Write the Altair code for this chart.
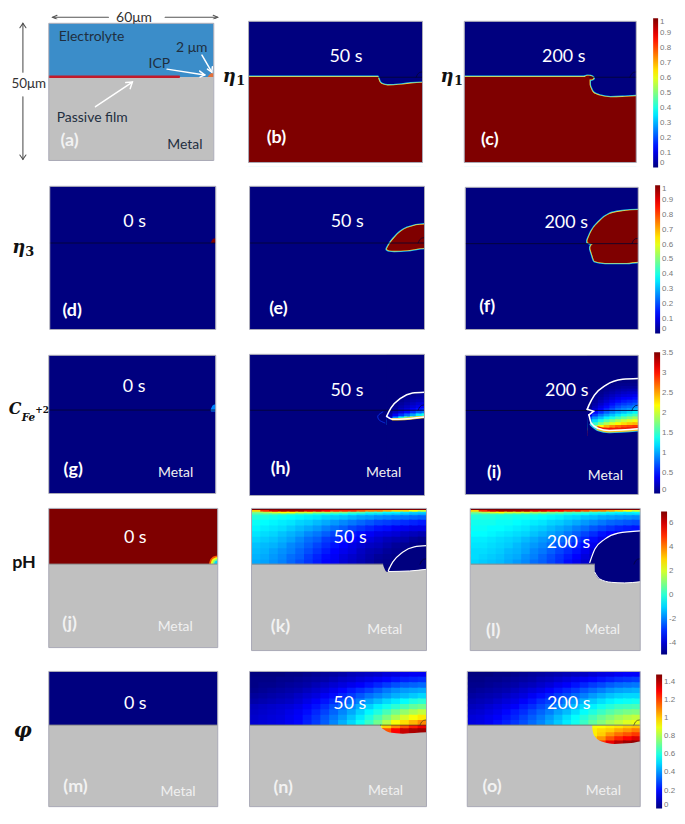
import altair as alt

# colour map of the simulation plots
JET_FRAC = [0, .125, .375, .625, .875, 1]
JET_COL = ["#00007f", "#0000ff", "#00ffff", "#ffff00", "#ff0000", "#7f0000"]
ETA_RANGE = (0, 1)
FE_RANGE = (0, 3.52)
PH_RANGE = (-5, 7)
PHI_RANGE = (0, 1.486)
ETA_TICKS = [0, .1, .2, .3, .4, .5, .6, .7, .8, .9, 1]
FE_TICKS = [0, .5, 1, 1.5, 2, 2.5, 3, 3.5]
PH_TICKS = [-4, -2, 0, 2, 4, 6]
PHI_TICKS = [0, .2, .4, .6, .8, 1, 1.2, 1.4]

# interface / pit profiles, micrometres (x along the surface, y down from the top)
B_X = [0, 44.6, 44.8, 45.2, 46, 48, 52, 56, 60]
B_Y = [19.7, 19.7, 20.4, 21.5, 22.2, 22.7, 22.5, 22, 21.8]
C_X = [0, 43.7, 43.75, 44.1, 44.8, 46.2, 47.6, 51, 55.2, 60]
C_Y = [19.7, 19.7, 22.5, 23.6, 25, 25.9, 26.4, 26.9, 26.8, 26.5]
C_OV_X = [42, 43, 44.1, 44.8, 45.1]
C_OV_T = [19.7, 19.3, 19.4, 19.7, 20.1]
C_OV_B = [19.9, 20.4, 20.6, 20.4, 20.2]
D_X = [58.2, 58.8, 59.4, 60]
D_T = [19.8, 18.6, 18.2, 18.1]
D_B = [19.8, 19.8, 19.8, 19.8]
E_X = [47.1, 47.9, 49.6, 54.1, 60]
E_T = [21.8, 20.3, 18, 14.5, 13.3]
E_B = [22, 22.4, 22.5, 22.3, 21.5]
F_UP_X = [42.4, 43.8, 46.6, 50, 54.5, 60]
F_UP_T = [18.6, 15.4, 11.9, 9.4, 8.4, 8.0]
F_UP_B = [19.3, 19.9, 20, 20, 20, 20]
F_LO_X = [43.4, 43.8, 44.1, 44.8, 47, 50, 56, 60]
F_LO_T = [21, 20.3, 20, 19.9, 19.9, 19.9, 19.9, 19.9]
F_LO_B = [21.7, 23, 24, 25.9, 26.4, 26.6, 26.6, 26.2]
G_X = [58.2, 58.7, 59.3, 60]
G_T = [19.6, 18.4, 17.9, 17.7]
G_B = [20.1, 20.3, 20.3, 20.3]
H_UP_X = [47, 48.5, 51.9, 55.9, 60]
H_UP_Y = [22, 19, 15.5, 13.7, 13.4]
H_LO_X = [47, 49, 54.1, 60]
H_LO_Y = [22, 23, 22.8, 22.2]
H_ARC_X = [45.7, 44, 44.4, 46.4]
H_ARC_Y = [20.4, 21.8, 23.2, 24.3]
I_UP_X = [42.3, 42.9, 44.8, 48.8, 54.6, 60]
I_UP_Y = [19.4, 17.9, 14.3, 10.7, 8.6, 8.3]
I_NOTCH_X = [42.3, 44.5, 42.9]
I_NOTCH_Y = [19.4, 20.1, 21.4]
I_LO_X = [42.9, 43.7, 46, 50, 60]
I_LO_Y = [21.4, 24.4, 26.2, 27, 26.4]
K_UP_X = [46.9, 48.4, 51.8, 55.8, 60]
K_UP_Y = [21.9, 18.9, 15.4, 13.5, 13.1]
K_M_X = [0, 45, 45.4, 46.4, 47, 54.2, 60]
K_M_Y = [19.6, 19.6, 20.7, 22.3, 22.2, 22.0, 21.4]
L_UP_X = [42.2, 44, 47.5, 52.2, 60]
L_UP_Y = [19, 14.3, 10.8, 8.7, 7.9]
L_M_X = [0, 43.9, 44, 45.7, 49.8, 54.5, 60]
L_M_Y = [19.6, 19.6, 22.5, 24.8, 26, 26.2, 25.8]
N_M_X = [0, 44.4, 44.5, 45.7, 47.5, 52, 56, 60]
N_M_Y = [19.85, 19.85, 20.5, 21.6, 22.6, 23, 22.8, 22.5]
O_M_X = [0, 43.3, 43.45, 44.2, 46.6, 51.1, 56.9, 60]
O_M_Y = [19.85, 19.85, 21.6, 24, 25.9, 26.8, 26.5, 25.9]
ARC_X = [57.8, 58.3, 59, 60]
ARC_Y = [19.8, 18.7, 18.1, 17.9]
ICP_X = [57.8, 58.5, 59.3, 60]
ICP_T = [19.6, 18.6, 18.2, 18.1]
ICP_B = [19.6, 19.6, 19.6, 19.6]
# concentric pH contours at the ICP in panel (j): x, top, value
J_RINGS = [
    ([56.9, 57.2, 58, 59, 60], [20, 18.7, 17.6, 17.1, 16.9], 4.5),
    ([57.5, 57.8, 58.5, 59.2, 60], [20, 18.8, 18, 17.6, 17.5], 2.3),
    ([58.1, 58.4, 59, 59.5, 60], [20, 19, 18.4, 18.2, 18.1], 1),
    ([58.7, 59, 59.5, 60], [20, 19.2, 18.8, 18.7], -1),
]

# cell edges of the sampled fields
COL3 = [0, 3, 6, 9, 12, 15, 18, 21, 24, 27, 30, 33, 36, 39, 42, 45, 48, 51, 54, 57, 60]
PH_Y = [0, .6, 1.2, 1.8, 2.4, 4, 6, 8, 10, 12, 14, 16, 18, 19.8]
PHI_Y = [0, 2, 4, 6, 8, 10, 12, 14, 16, 18, 19.8]
PHI_N_PIT_Y = [19.8, 21, 24]
PHI_O_PIT_Y = [19.8, 21, 22.5, 24, 25.5, 27, 29]
PIT_COL = [42, 45, 48, 51, 54, 57, 60]
H_COL = [47, 49, 51, 53, 55, 57, 59, 60]
H_ROW = [13, 14, 15, 16, 17, 18, 19, 20, 21, 22, 23, 24]
I_COL = [42.3, 44, 46, 48, 50, 52, 54, 56, 58, 60]
I_ROW = [8, 9, 10, 11, 12, 13, 14, 15, 16, 17, 18, 19, 20, 21, 22, 23, 24, 25, 26, 27, 28]

PH_K = [
 [7]*20,
 [3,5,6,6.5,6.5,6.5,6,6,5.5,5,5,5,4.5,4,4,3.5,3,3,2.5,2],
 [1,1.5,2,2.5,2.5,2,2,1.5,1.5,1,1,.5,.5,0,0,-.5,-.5,-.8,-1,-1],
 [.3,.3,.3,.2,.1,0,-.1,-.2,-.3,-.4,-.5,-.6,-.8,-.9,-1,-1.1,-1.2,-1.3,-1.4,-1.5],
 [-.1,-.2,-.3,-.4,-.5,-.6,-.7,-.8,-1,-1.1,-1.2,-1.4,-1.6,-1.7,-1.9,-2,-2.1,-2.2,-2.3,-2.4],
 [-.4,-.5,-.6,-.7,-.8,-1,-1.1,-1.3,-1.5,-1.7,-1.9,-2.1,-2.3,-2.5,-2.7,-2.8,-2.9,-3,-3.1,-3.2],
 [-.6,-.7,-.8,-.9,-1.1,-1.3,-1.5,-1.7,-2,-2.2,-2.4,-2.7,-2.9,-3.1,-3.3,-3.4,-3.6,-3.7,-3.8,-3.8],
 [-.8,-.9,-1,-1.2,-1.4,-1.6,-1.9,-2.1,-2.4,-2.7,-2.9,-3.2,-3.4,-3.6,-3.8,-3.9,-4,-4.2,-4.3,-4.4],
 [-1,-1.1,-1.2,-1.4,-1.6,-1.9,-2.2,-2.4,-2.8,-3,-3.3,-3.5,-3.7,-3.9,-4.1,-4.3,-4.4,-4.5,-4.7,-4.8],
 [-1.2,-1.3,-1.4,-1.6,-1.9,-2.1,-2.4,-2.7,-3,-3.3,-3.5,-3.8,-4,-4.2,-4.3,-4.5,-4.7,-4.8,-4.9,-5],
 [-1.3,-1.4,-1.6,-1.8,-2,-2.3,-2.6,-2.9,-3.2,-3.5,-3.7,-3.9,-4.2,-4.4,-4.5,-4.7,-4.8,-4.9,-5,-5],
 [-1.4,-1.5,-1.7,-1.9,-2.2,-2.4,-2.8,-3.1,-3.4,-3.6,-3.9,-4.1,-4.3,-4.5,-4.7,-4.8,-4.9,-5,-5,-5],
 [-1.5,-1.6,-1.8,-2,-2.3,-2.6,-2.9,-3.2,-3.5,-3.7,-4,-4.2,-4.4,-4.6,-4.8,-4.9,-5,-5,-5,-5],
]
PH_L = [
 [7]*20,
 [3,5,6,6.5,6.5,6.5,6.5,6,6,5.5,5.5,5,5,4.5,4,4,3.5,3,2.5,2],
 [1,1.5,2,2.5,2,2,2,1.5,1.5,1,1,.5,.5,.3,0,0,-.3,-.5,-.7,-.5],
 [.2,.2,.2,.2,.1,.1,0,0,-.1,-.1,-.2,-.3,-.4,-.5,-.7,-.8,-.9,-1,-1,-1],
 [-.1,-.1,-.1,-.2,-.2,-.3,-.3,-.4,-.5,-.6,-.7,-.9,-1,-1.2,-1.3,-1.5,-1.6,-1.7,-1.8,-1.9],
 [-.3,-.3,-.3,-.4,-.4,-.5,-.6,-.7,-.8,-1,-1.1,-1.3,-1.5,-1.7,-1.9,-2.1,-2.3,-2.4,-2.5,-2.6],
 [-.4,-.4,-.5,-.5,-.6,-.7,-.8,-1,-1.1,-1.3,-1.5,-1.7,-2,-2.2,-2.5,-2.7,-2.9,-3.1,-3.2,-3.3],
 [-.5,-.5,-.6,-.7,-.8,-.9,-1,-1.2,-1.4,-1.6,-1.8,-2.1,-2.4,-2.7,-3,-3.3,-3.5,-3.7,-3.8,-3.9],
 [-.7,-.7,-.8,-.9,-1,-1.1,-1.3,-1.5,-1.7,-1.9,-2.2,-2.5,-2.8,-3.1,-3.4,-3.7,-3.9,-4.1,-4.2,-4.3],
 [-.8,-.8,-.9,-1,-1.1,-1.3,-1.5,-1.7,-1.9,-2.2,-2.5,-2.8,-3.1,-3.4,-3.7,-4,-4.3,-4.5,-4.6,-4.7],
 [-.9,-.9,-1,-1.1,-1.3,-1.4,-1.6,-1.9,-2.1,-2.4,-2.7,-3,-3.3,-3.7,-4,-4.3,-4.6,-4.8,-5,-5],
 [-.9,-1,-1.1,-1.2,-1.4,-1.5,-1.8,-2,-2.3,-2.6,-2.9,-3.2,-3.5,-3.9,-4.2,-4.5,-4.8,-5,-5,-5],
 [-1,-1.1,-1.2,-1.3,-1.5,-1.7,-1.9,-2.2,-2.4,-2.7,-3,-3.4,-3.7,-4.1,-4.4,-4.7,-5,-5,-5,-5],
]
PHI_N = [
 [0,0,0,0,.01,.01,.02,.03,.04,.05,.06,.08,.09,.1,.11,.13,.14,.16,.17,.17],
 [.01,.01,.01,.02,.02,.03,.04,.05,.06,.08,.1,.11,.13,.15,.17,.19,.21,.23,.24,.25],
 [.01,.02,.02,.03,.04,.05,.06,.08,.1,.12,.14,.16,.18,.21,.24,.27,.3,.32,.33,.34],
 [.02,.03,.04,.05,.06,.07,.09,.11,.13,.16,.19,.22,.25,.28,.32,.36,.39,.41,.42,.43],
 [.04,.05,.06,.07,.08,.1,.12,.14,.17,.2,.24,.27,.31,.35,.38,.41,.44,.46,.48,.5],
 [.06,.07,.08,.09,.1,.12,.15,.18,.21,.25,.29,.33,.37,.42,.46,.5,.53,.56,.6,.62],
 [.09,.1,.11,.12,.13,.15,.18,.21,.25,.3,.34,.39,.44,.49,.54,.58,.62,.66,.7,.72],
 [.1,.11,.12,.13,.15,.17,.2,.24,.28,.33,.38,.43,.49,.55,.6,.66,.72,.77,.81,.84],
 [.11,.12,.13,.14,.16,.18,.22,.26,.31,.36,.41,.47,.53,.6,.67,.74,.81,.87,.92,.96],
 [.12,.13,.14,.15,.17,.19,.23,.27,.32,.38,.44,.5,.57,.64,.72,.82,.92,.98,1.04,1.1],
]
PHI_N_PIT = [
 [.9,1,1.1,1.18,1.26,1.32],
 [1.1,1.18,1.3,1.38,1.42,1.44],
]
PHI_O = [
 [0,0,0,.01,.01,.02,.03,.04,.05,.06,.07,.08,.09,.1,.12,.14,.15,.17,.18,.18],
 [.01,.01,.02,.02,.03,.04,.05,.06,.08,.09,.11,.13,.15,.17,.19,.21,.23,.25,.26,.27],
 [.02,.02,.03,.04,.05,.06,.08,.09,.11,.13,.16,.18,.21,.24,.27,.29,.32,.34,.35,.36],
 [.03,.04,.05,.06,.07,.09,.11,.13,.15,.18,.21,.24,.27,.31,.34,.37,.4,.42,.43,.44],
 [.05,.06,.07,.08,.1,.12,.14,.17,.2,.23,.27,.3,.34,.37,.41,.44,.47,.49,.5,.5],
 [.07,.08,.09,.11,.13,.15,.18,.21,.25,.28,.32,.36,.4,.44,.48,.51,.54,.56,.57,.58],
 [.09,.1,.12,.14,.16,.18,.22,.25,.29,.33,.37,.41,.46,.5,.54,.58,.61,.64,.65,.66],
 [.11,.12,.14,.16,.19,.22,.25,.29,.33,.37,.42,.46,.51,.56,.6,.64,.68,.71,.73,.74],
 [.13,.14,.16,.18,.21,.24,.28,.32,.36,.41,.46,.51,.56,.61,.66,.71,.75,.79,.82,.84],
 [.14,.15,.17,.2,.23,.26,.3,.34,.38,.43,.48,.53,.58,.64,.7,.75,.8,.84,.88,.9],
]
PHI_O_PIT = [
 [.92,.93,.95,.97,1,1.02],
 [.95,.98,1,1.05,1.08,1.12],
 [.95,1,1.08,1.14,1.18,1.22],
 [1,1.08,1.18,1.25,1.3,1.35],
 [1.1,1.22,1.33,1.4,1.44,1.46],
 [1.3,1.4,1.45,1.48,1.48,1.48],
]
FE_H = [
 [0,0,0,0,0,0,.02],
 [0,0,0,.02,.05,.08,.1],
 [0,0,.02,.05,.1,.12,.14],
 [0,.02,.05,.1,.15,.18,.2],
 [0,.05,.1,.15,.22,.28,.3],
 [.02,.08,.15,.22,.3,.38,.42],
 [.05,.12,.22,.3,.42,.5,.55],
 [.08,.2,.32,.45,.6,.75,.85],
 [.15,.4,.6,.8,1,1.25,1.4],
 [.3,.9,1.3,1.6,1.9,2.1,2.3],
 [1,2.4,2.6,2.7,2.7,2.8,2.8],
]
FE_I = [
 [0,0,0,0,0,0,0,0,0],
 [0,0,0,0,0,.02,.02,.02,.02],
 [0,0,0,0,.03,.05,.05,.05,.05],
 [0,0,0,.03,.06,.08,.1,.1,.1],
 [0,0,.02,.06,.1,.14,.16,.18,.18],
 [0,.02,.05,.1,.15,.2,.24,.26,.28],
 [0,.04,.08,.15,.22,.28,.32,.34,.38],
 [0,.06,.12,.2,.28,.36,.42,.44,.48],
 [0,.1,.18,.28,.38,.46,.52,.56,.6],
 [0,.14,.25,.36,.48,.58,.64,.68,.74],
 [.05,.2,.34,.46,.58,.7,.78,.82,.9],
 [.1,.3,.45,.6,.72,.85,.92,.98,1.08],
 [.2,.45,.6,.76,.9,1.02,1.1,1.2,1.3],
 [.4,.65,.85,1,1.12,1.24,1.36,1.46,1.55],
 [.7,.95,1.1,1.28,1.4,1.55,1.66,1.76,1.85],
 [.95,1.2,1.4,1.6,1.75,1.88,2,2.08,2.15],
 [1.1,1.5,1.75,1.95,2.1,2.22,2.32,2.4,2.45],
 [1.3,1.9,2.2,2.45,2.6,2.72,2.8,2.85,2.9],
 [2,2.4,2.9,3.05,3.1,3.15,3.2,3.2,3.2],
 [3,3,3,3,3,3,3,3,3],
]

# layout: cell cuts and the frame of each panel on the page
CUT_X = [8, 220, 440, 676]
CUT_Y = [8, 173, 341, 502, 662, 811]
FONT = "Lato"
MATH = "DejaVu Serif"
BOT = 50.8
GRAY = "#c0c0c0"
INK = "#111111"


class Panel:
    def __init__(self, col, row, box, rng=None, ticks=None, legend=None):
        x0, x1, y0, y1 = box
        kx, ky = (x1 - x0) / 60, (y1 - y0) / 50
        X0, X1, Y0, Y1 = CUT_X[col], CUT_X[col + 1], CUT_Y[row], CUT_Y[row + 1]
        self.w, self.h = X1 - X0, Y1 - Y0
        self.xs = alt.Scale(domain=[(X0 - x0) / kx, (X1 - x0) / kx], nice=False, zero=False)
        self.ys = alt.Scale(domain=[(Y0 - y0) / ky, (Y1 - y0) / ky], nice=False, zero=False, reverse=True)
        self.layers, self.texts = [], []
        if rng:
            lo, hi = rng
            sc = alt.Scale(domain=[lo + f * (hi - lo) for f in JET_FRAC], range=JET_COL, interpolate="rgb")
            lg = None
            if legend:
                lx, ly, ln, th = legend
                lg = alt.Legend(orient="none", legendX=lx, legendY=ly, gradientLength=ln, gradientThickness=th,
                                title=None, values=ticks, labelFontSize=8, labelColor="#777777",
                                labelFont="Liberation Sans", gradientStrokeWidth=0, labelOffset=2, padding=0,
                                labelExpr="'' + datum.value", labelOverlap=False)
            self.col = alt.Color("v:Q", scale=sc, legend=lg)

    def _pos(self):
        return dict(x=alt.X("x:Q", axis=None, scale=self.xs), y=alt.Y("y:Q", axis=None, scale=self.ys))

    def rect(self, x0, x1, y0, y1, v=None, color=None, **kw):
        d = alt.Data(values=[dict(x=x0, x2=x1, y=y0, y2=y1, v=v)])
        opts = dict(kw)
        enc = self._pos()
        enc["x2"] = alt.X2("x2:Q")
        enc["y2"] = alt.Y2("y2:Q")
        if v is not None:
            enc["color"] = self.col
        elif color:
            opts["color"] = color
        self.layers.append(alt.Chart(d).mark_rect(**opts).encode(**enc))

    def area(self, xs, tops, bots, v=None, color=None, stroke=None, sw=0, interp="monotone"):
        xs, tops, bots = list(xs), list(tops), list(bots)
        if xs[-1] == 60:
            xs, tops, bots = xs + [60.8], tops + [tops[-1]], bots + [bots[-1]]
        if xs[0] == 0:
            xs, tops, bots = [-.8] + xs, [tops[0]] + tops, [bots[0]] + bots
        d = alt.Data(values=[dict(x=a, y=b, y2=c, v=v) for a, b, c in zip(xs, tops, bots)])
        opts = dict(clip=True, interpolate=interp, orient="vertical")
        if stroke:
            opts.update(stroke=stroke, strokeWidth=sw)
        enc = self._pos()
        enc["y2"] = alt.Y2("y2:Q")
        if v is not None:
            enc["color"] = self.col
        else:
            opts["color"] = color
        self.layers.append(alt.Chart(d).mark_area(**opts).encode(**enc))

    def ringed(self, shapes, v, outer="#22c4f0", inner="#f4dc44"):
        for s in shapes:
            self.area(*s, v=v, stroke=outer, sw=2.8)
        for s in shapes:
            self.area(*s, v=v, stroke=inner, sw=1.3)
        for s in shapes:
            self.area(*s, v=v)

    def line(self, xs, ys, color, width=1.0, interp="linear", opacity=1):
        d = alt.Data(values=[dict(x=a, y=b, i=n) for n, (a, b) in enumerate(zip(xs, ys))])
        self.layers.append(alt.Chart(d).mark_line(clip=True, color=color, strokeWidth=width, interpolate=interp,
                                                  opacity=opacity, strokeCap="round")
                           .encode(order=alt.Order("i:Q"), **self._pos()))

    def field(self, xe, ye, grid, lap=1):
        rec = []
        for r, row in enumerate(grid):
            for c, val in enumerate(row):
                rec.append(dict(x=xe[c], x2=xe[c + 1] + lap, y=ye[r], y2=ye[r + 1] + lap, v=val))
        enc = self._pos()
        enc["x2"] = alt.X2("x2:Q")
        enc["y2"] = alt.Y2("y2:Q")
        enc["color"] = self.col
        self.layers.append(alt.Chart(alt.Data(values=rec)).mark_rect(clip=True).encode(**enc))

    def text(self, x, y, s, size=18, color="white", weight="normal", font=FONT, style="normal", align="center"):
        d = alt.Data(values=[dict(x=x, y=y, t=s)])
        self.texts.append(alt.Chart(d).mark_text(fontSize=size, color=color, fontWeight=weight, font=font,
                                                 fontStyle=style, align=align, baseline="middle")
                          .encode(text=alt.Text("t:N"), **self._pos()))

    def labels(self, time, tx, ty, letter, lx, ly, metal=None, lcolor="white"):
        if time:
            self.text(tx, ty, time)
        self.text(lx, ly, letter, size=18, weight="bold", color=lcolor)
        if metal:
            self.text(metal[0], metal[1], "Metal", size=14, color="#f0f0f0")

    def build(self, border="#a9a9b6"):
        for a in [(-2, 0, -1.5, 51.5), (60, 62, -1.5, 51.5), (-2, 62, -1.5, 0), (-2, 62, 50, 51.5)]:
            self.rect(*a, color="white")
        self.rect(0, 60, 0, 50, fillOpacity=0, stroke=border, strokeWidth=1)
        return alt.layer(*self.layers, *self.texts).properties(width=self.w, height=self.h)


def metal(p, xs=None, ys=None, y=19.8):
    if xs is None:
        xs, ys = [0, 60], [y, y]
    p.area(xs, ys, [BOT] * len(xs), color=GRAY, interp="monotone" if len(xs) > 2 else "linear")


def head(p, xs, ys, color, w):
    p.line(xs, ys, color, w)


# (a) schematic
a = Panel(0, 0, (48, 214, 21, 159))
a.rect(0, 60, 0, 19.6, color="#3b8dc9")
a.rect(0, 60, 19.6, 50, color=GRAY)
a.line([0, 47.3], [19.5, 19.5], "#c21a2a", 2.6)
a.area(ICP_X, ICP_T, ICP_B, color="#e2703a")
for xs, ys in [([43, 56.7], [16.7, 18.8]), ([54.9, 56.7, 55], [17.4, 18.8, 19.6]),
               ([55.7, 59.3], [11.6, 17.8]), ([57.7, 59.3, 59.5], [16.7, 17.8, 15.8]),
               ([17, 30.4], [30.4, 21.4]), ([28, 30.4, 29.6], [21.6, 21.4, 23.8])]:
    head(a, xs, ys, "white", 1.5)
for xs, ys in [([1.4, 21.7], [-2.2, -2.2]), ([3, 1.4, 3], [-2.9, -2.2, -1.5]),
               ([42.3, 61.4], [-2.2, -2.2]), ([59.8, 61.4, 59.8], [-2.9, -2.2, -1.5]),
               ([-9.4, -9.4], [0, 17.8]), ([-10.5, -9.4, -8.3], [1.6, 0, 1.6]),
               ([-9.4, -9.4], [26.8, 49.6]), ([-10.5, -9.4, -8.3], [48, 49.6, 48])]:
    head(a, xs, ys, "#555555", 1.1)
DARK = "#1f2f40"
a.text(3.6, 4.9, "Electrolyte", size=14, color=DARK, align="left")
a.text(52, 9, "2 μm", size=14, color=DARK)
a.text(40.2, 14.9, "ICP", size=14, color=DARK)
a.text(2.9, 34.4, "Passive film", size=14, color=DARK, align="left")
a.text(49.5, 44.2, "Metal", size=14, color=DARK)
a.text(7.6, 42.8, "(a)", size=18, weight="bold", color="#f2f2f2")
a.text(31, -2, "60μm", size=14, color="#333333")
a.text(-7.3, 22, "50μm", size=13.5, color="#333333")

# (b)
b = Panel(1, 0, (249, 424, 19, 161), ETA_RANGE)
b.rect(0, 60, 0, 50, v=0)
b.ringed([(B_X, B_Y, [BOT] * len(B_X))], 1)
b.line([44.8, 60], [19.8, 19.8], "#05052e", .8)
b.line(ARC_X, ARC_Y, "#05052e", .7)
b.labels("50 s", 33.6, 12.7, "(b)", 9.6, 41.5)
b.text(-6.7, 19.9, "η", size=18, color=INK, weight="bold", font=MATH, style="italic")
b.text(-2.7, 21.2, "1", size=13, color=INK, weight="bold", font=MATH)

# (c)
c = Panel(2, 0, (466, 639, 19, 161), ETA_RANGE, ETA_TICKS, (216, 8, 150, 5))
c.rect(0, 60, 0, 50, v=0)
c.ringed([(C_X, C_Y, [BOT] * len(C_X)), (C_OV_X, C_OV_T, C_OV_B)], 1)
c.line([43.7, 60], [19.8, 19.8], "#05052e", .8)
c.line(ARC_X, ARC_Y, "#05052e", .7)
c.labels("200 s", 34.7, 12.7, "(c)", 8.9, 41.9)
c.text(-6, 19.7, "η", size=18, color=INK, weight="bold", font=MATH, style="italic")
c.text(-2, 21, "1", size=13, color=INK, weight="bold", font=MATH)

# (d)
d = Panel(0, 1, (49, 216, 185, 329), ETA_RANGE)
d.rect(0, 60, 0, 50, v=0)
d.area(D_X, D_T, D_B, v=1)
d.line([0, 60], [19.8, 19.8], "#05052e", .8)
d.labels("0 s", 30.7, 12.5, "(d)", 8.1, 43.4)
d.text(-11.2, 21.5, "η", size=18, color=INK, weight="bold", font=MATH, style="italic")
d.text(-7.2, 22.8, "3", size=13, color=INK, weight="bold", font=MATH)

# (e)
e = Panel(1, 1, (248, 424, 185, 329), ETA_RANGE)
e.rect(0, 60, 0, 50, v=0)
e.ringed([(E_X, E_T, E_B)], 1)
e.line([0, 60], [19.8, 19.8], "#05052e", .8)
e.line(ARC_X, ARC_Y, "#05052e", .7)
e.labels("50 s", 33.5, 12.5, "(e)", 9.9, 43)

# (f)
f = Panel(2, 1, (465, 639, 186, 329), ETA_RANGE, ETA_TICKS, (216, 11, 149, 5))
f.rect(0, 60, 0, 50, v=0)
f.ringed([(F_UP_X, F_UP_T, F_UP_B), (F_LO_X, F_LO_T, F_LO_B)], 1)
f.line([0, 60], [19.8, 19.8], "#05052e", .8)
f.line(ARC_X, ARC_Y, "#05052e", .7)
f.labels("200 s", 35, 12.5, "(f)", 7.6, 42)

# (g)
g = Panel(0, 2, (48, 216, 355, 494), FE_RANGE)
g.rect(0, 60, 0, 50, v=0)
g.area(G_X, G_T, G_B, v=.9)
g.line([0, 60], [19.8, 19.8], "#05052e", .8)
g.labels("0 s", 30.7, 11.6, "(g)", 8.8, 41.5, (45.6, 42.6))
g.text(-12.1, 19.5, "C", size=16, color=INK, weight="bold", font=MATH, style="italic")
g.text(-7.3, 22.6, "Fe", size=10.5, color=INK, weight="bold", font=MATH, style="italic")
g.text(-2.4, 19.9, "+2", size=9, color=INK, weight="bold", font=MATH)

# (h)
h = Panel(1, 2, (248, 424, 354, 496), FE_RANGE)
h.rect(0, 60, 0, 50, v=0)
h.field(H_COL, H_ROW, FE_H)
h.area(H_UP_X, [0] * len(H_UP_X), H_UP_Y, v=0)
h.area(H_LO_X, H_LO_Y, [50] * len(H_LO_X), v=0)
h.line([0, 60], [19.8, 19.8], "#05052e", .8)
h.line(ARC_X, ARC_Y, "#05052e", .7)
h.line(H_ARC_X, H_ARC_Y, "#0a2ee0", 1, "catmull-rom")
h.line(H_LO_X[1:], H_LO_Y[1:], "#f2c020", 2.4, "monotone")
h.line(H_UP_X, H_UP_Y, "white", 1.5, "monotone")
h.line(H_LO_X, H_LO_Y, "white", 1.5, "monotone")
h.labels("50 s", 33.4, 13, "(h)", 10.6, 40.8, (46, 41.9))

# (i)
i = Panel(2, 2, (465, 639, 355, 495), FE_RANGE, FE_TICKS, (215, 11, 142, 6))
i.rect(0, 60, 0, 50, v=0)
i.field(I_COL, I_ROW, FE_I)
i.area(I_UP_X, [0] * len(I_UP_X), I_UP_Y, v=0)
i.area([42.3] + I_LO_X, [21.4] + I_LO_Y, [50] * (len(I_LO_X) + 1), v=0)
i.area([42.3, 42.9, 44.5], [19.4, 19.6, 20.1], [21.4, 21.4, 20.1], v=0, interp="linear")
i.line([0, 60], [19.8, 19.8], "#05052e", .8)
i.line(ARC_X, ARC_Y, "#05052e", .7)
i.line(I_LO_X[1:], [v + .4 for v in I_LO_Y[1:]], "#28c8e8", 3.4, "monotone")
i.line(I_LO_X[2:], [v + .2 for v in I_LO_Y[2:]], "#f6c020", 2.8, "monotone")
i.line(I_LO_X[2:], [v - .45 for v in I_LO_Y[2:]], "#f01808", 1.6, "monotone")
i.line(I_UP_X, I_UP_Y, "white", 1.6, "monotone")
i.line(I_NOTCH_X, I_NOTCH_Y, "white", 1.6)
i.line(I_LO_X, I_LO_Y, "white", 1.6, "monotone")
i.labels("200 s", 35.2, 13, "(i)", 10, 42.3, (48.6, 43.3))

# (j)
j = Panel(0, 3, (48, 218, 509, 649), PH_RANGE)
j.rect(0, 60, 0, 20, v=7)
for xs, ts, val in J_RINGS:
    j.area(xs, ts, [20] * len(xs), v=val)
metal(j, y=20)
j.line([0, 60], [20, 20], "#8a8a8a", 1)
j.labels("0 s", 30.7, 10.5, "(j)", 7.4, 41.6, (44.9, 42.7), "#f2f2f2")
j.text(-8.8, 19.6, "pH", size=18, color=INK, weight="bold")

# (k)
k = Panel(1, 3, (248, 424, 509, 652), PH_RANGE)
k.rect(0, 60, 0, 20, v=-5)
k.field(COL3, PH_Y, PH_K)
k.area([45, 46.9], [19.6, 19.6], [22.5, 22.5], v=-5, interp="linear")
k.area(K_UP_X, [19.6, 18.9, 15.4, 13.5, 13.1], [22.4, 22.4, 22.3, 22.2, 21.6], v=-5)
metal(k, K_M_X, K_M_Y)
k.line([0, 45], [19.6, 19.6], "#8a8a8a", 1)
k.line(ARC_X, [v - .2 for v in ARC_Y], "#05052e", .7)
k.line(K_UP_X, K_UP_Y, "white", 1.2, "monotone")
k.line(K_M_X[4:], K_M_Y[4:], "white", 1, "monotone")
k.labels("50 s", 33.8, 10.5, "(k)", 9.9, 41.6, (45.7, 42.7), "#f2f2f2")

# (l)
l = Panel(2, 3, (468, 639, 509, 652), PH_RANGE, PH_TICKS, (220, 10, 144, 6))
l.rect(0, 60, 0, 20, v=-5)
l.field(COL3, PH_Y, PH_L)
l.area(L_UP_X, L_UP_Y, [27] * len(L_UP_X), v=-5)
metal(l, L_M_X, L_M_Y)
l.line([0, 43.9], [19.6, 19.6], "#8a8a8a", 1)
l.line(ARC_X, [v - .2 for v in ARC_Y], "#05052e", .7)
l.line(L_UP_X, L_UP_Y, "white", 1.2, "monotone")
l.line(L_M_X[2:], L_M_Y[2:], "white", 1, "monotone")
l.labels("200 s", 34.7, 12.2, "(l)", 8.1, 43, (46.7, 42.7), "#f2f2f2")

# (m)
m = Panel(0, 4, (48, 218, 673, 809), PHI_RANGE)
m.rect(0, 60, 0, 20, v=0)
metal(m, y=19.85)
m.line([0, 60], [19.85, 19.85], "#8a8a8a", 1)
m.labels("0 s", 30.7, 12.1, "(m)", 9.5, 42.6, (45.9, 44.5), "#f2f2f2")
m.text(-9.2, 22, "φ", size=20, color=INK, weight="bold", font=MATH, style="italic")

# (n)
n = Panel(1, 4, (246, 424, 673, 809), PHI_RANGE)
n.field(COL3, PHI_Y, PHI_N)
n.field(PIT_COL, PHI_N_PIT_Y, PHI_N_PIT)
metal(n, N_M_X, N_M_Y)
n.line([0, 44.4], [19.85, 19.85], "#707a70", 1)
n.line([44.4, 60], [19.85, 19.85], "#403a20", .7)
n.line(ARC_X, ARC_Y, "#403a20", .7)
n.labels("50 s", 34, 12.1, "(n)", 11.4, 43, (46.1, 44.1), "#f2f2f2")

# (o)
o = Panel(2, 4, (465, 639, 673, 809), PHI_RANGE, PHI_TICKS, (215, 14, 135, 6))
o.field(COL3, PHI_Y, PHI_O)
o.field(PIT_COL, PHI_O_PIT_Y, PHI_O_PIT)
metal(o, O_M_X, O_M_Y)
o.line([0, 60], [19.85, 19.85], "#707a70", 1)
o.line(ARC_X, ARC_Y, "#403a20", .7)
o.labels("200 s", 35.2, 12.1, "(o)", 8.6, 42.6, (47.2, 44.1), "#f2f2f2")

rows = [[a, b, c], [d, e, f], [g, h, i], [j, k, l], [m, n, o]]
chart = alt.vconcat(*[alt.hconcat(*[p.build() for p in r], spacing=0).resolve_scale(color="independent")
                      for r in rows], spacing=0) \
    .resolve_scale(color="independent") \
    .configure_view(stroke=None).properties(padding=0, background="white")
chart.save("out.html", embed_options={"renderer": "svg", "actions": False})
